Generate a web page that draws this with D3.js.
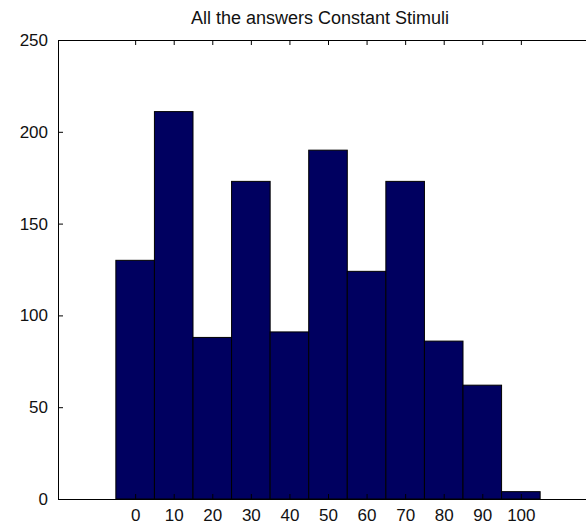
<!DOCTYPE html>
<html>
<head>
<meta charset="utf-8">
<script src="https://cdn.jsdelivr.net/npm/d3@7"></script>
<style>
  body { margin: 0; background: #fff; }
  text { font-family: "Liberation Sans", Arial, Helvetica, sans-serif; }
</style>
</head>
<body>
<div id="chart"></div>
<script>
// histogram bins (centres) and counts
var binCenters = [0, 10, 20, 30, 40, 50, 60, 70, 80, 90, 100];
var counts = [130, 211, 88, 173, 91, 190, 124, 173, 86, 62, 4];
var xTicks = [0, 10, 20, 30, 40, 50, 60, 70, 80, 90, 100];
var yTicks = [0, 50, 100, 150, 200, 250];
var titleText = "All the answers Constant Stimuli";

var width = 586, height = 526;
var axLeft = 58, axTop = 40, axBottom = 499, axRight = 598;

var svg = d3.select("#chart").append("svg")
    .attr("width", width)
    .attr("height", height);

var x = d3.scaleLinear().domain([-20, 120]).range([axLeft, axRight]);
var y = d3.scaleLinear().domain([0, 250]).range([axBottom, axTop]);

// bars
svg.append("g").selectAll("rect")
    .data(binCenters)
    .enter().append("rect")
    .attr("x", d => x(d - 5))
    .attr("width", d => x(d + 5) - x(d - 5))
    .attr("y", (d, i) => y(counts[i]))
    .attr("height", (d, i) => y(0) - y(counts[i]))
    .attr("fill", "#000060")
    .attr("stroke", "#000")
    .attr("stroke-width", 1);

// axes: ticks inside like matlab
var xBottom = d3.axisBottom(x).tickValues(xTicks).tickSizeInner(-5).tickSizeOuter(0).tickPadding(10);
var xTop = d3.axisTop(x).tickValues(xTicks).tickSizeInner(-5).tickSizeOuter(0).tickFormat("");
var yLeft = d3.axisLeft(y).tickValues(yTicks).tickSizeInner(-5).tickSizeOuter(0).tickPadding(10);

var gx = svg.append("g").attr("transform", "translate(0," + axBottom + ")").call(xBottom);
var gt = svg.append("g").attr("transform", "translate(0," + axTop + ")").call(xTop);
var gy = svg.append("g").attr("transform", "translate(" + axLeft + ",0)").call(yLeft);

[gx, gt, gy].forEach(function(g) {
    g.selectAll(".domain").attr("stroke", "#000");
    g.selectAll(".tick line").attr("stroke", "#000");
    g.selectAll("text").attr("font-size", 17).attr("fill", "#111")
        .attr("font-family", "'Liberation Sans', Arial, sans-serif");
});
gx.selectAll("text").attr("dy", "0.71em");

svg.append("text")
    .attr("x", 320)
    .attr("y", 24)
    .attr("text-anchor", "middle")
    .attr("font-size", 18)
    .attr("fill", "#111")
    .text(titleText);
</script>
</body>
</html>
